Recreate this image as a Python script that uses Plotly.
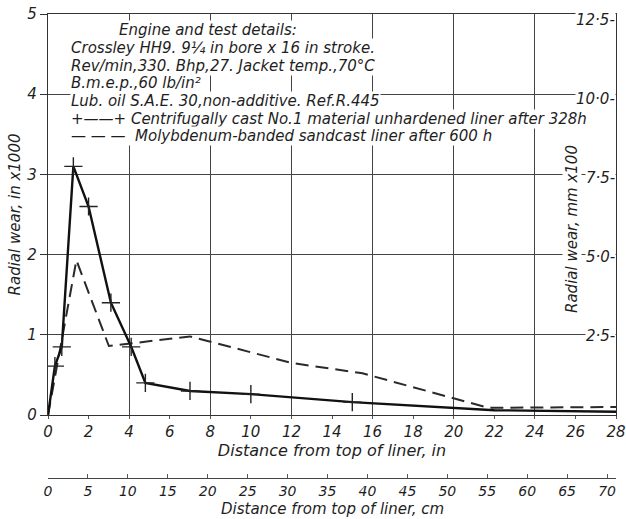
import plotly.graph_objects as go

# Data (inches from top of liner, radial wear in x1000)
solid_x = [0, 0.34, 0.68, 1.25, 2.0, 3.1, 4.1, 4.8, 7.0, 10.0, 15.0, 22.0, 28.0]
solid_y = [0, 0.61, 0.85, 3.1, 2.6, 1.4, 0.85, 0.4, 0.3, 0.26, 0.16, 0.06, 0.04]
solid_marker = [False, True, True, True, True, True, True, True, True, True, True, False, False]

dash_x = [0, 1.4, 3.0, 7.0, 12.0, 15.5, 21.7, 28.0]
dash_y = [0, 1.93, 0.86, 0.98, 0.65, 0.52, 0.09, 0.1]

x_in_ticks = list(range(0, 29, 2))
y_ticks = [0, 1, 2, 3, 4, 5]
mm_ticks = [2.5, 5.0, 7.5, 10.0, 12.5]
mm_labels = ["2·5", "5·0", "7·5", "10·0", "12·5"]
cm_ticks = list(range(0, 71, 5))

info_lines = [
    "Engine and test details:",
    "Crossley HH9. 9¼ in bore x 16 in stroke.",
    "Rev/min,330. Bhp,27. Jacket temp.,70°C",
    "B.m.e.p.,60 lb/in²",
    "Lub. oil S.A.E. 30,non-additive. Ref.R.445",
    "+——+ Centrifugally cast No.1 material unhardened liner after 328h",
    "— — —  Molybdenum-banded sandcast liner after 600 h",
]

FONT = "DejaVu Sans"
INK = "#1e1e1e"
W, H = 626, 519
ML, MR, MT, MB = 48, 10, 14, 41
plot_w = W - ML - MR
plot_h = H - MT - MB


def px_x(p):
    return (p - ML) / plot_w


def px_y(p):
    return (H - MB - p) / plot_h


fig = go.Figure()
fig.add_trace(go.Scatter(
    x=dash_x, y=dash_y, mode="lines",
    line=dict(color="#2a2a2a", width=2, dash="13px,7px"),
    showlegend=False, hoverinfo="skip"))
fig.add_trace(go.Scatter(
    x=solid_x, y=solid_y, mode="lines",
    line=dict(color="#111", width=2.4),
    showlegend=False, hoverinfo="skip"))
fig.add_trace(go.Scatter(
    x=[x for x, m in zip(solid_x, solid_marker) if m],
    y=[y for y, m in zip(solid_y, solid_marker) if m],
    mode="markers",
    marker=dict(symbol="cross-thin", size=13, line=dict(color="#222", width=1.4)),
    showlegend=False, hoverinfo="skip"))
# cm axis carrier
fig.add_trace(go.Scatter(x=[None], y=[None], xaxis="x2", yaxis="y",
                         showlegend=False, hoverinfo="skip"))

y_dom0 = px_y(415)
TF = dict(size=15, family=FONT, style="italic")
LF = dict(size=15, family=FONT, style="italic", color=INK)

fig.update_layout(
    width=W, height=H,
    margin=dict(l=ML, r=MR, t=MT, b=MB, autoexpand=False),
    paper_bgcolor="white", plot_bgcolor="white",
    font=dict(family=FONT, size=13, color=INK, style="italic"),
    xaxis=dict(
        range=[0, 28], tickvals=x_in_ticks, ticktext=[str(v) for v in x_in_ticks],
        showgrid=False, showline=True, linecolor="#333", linewidth=1.2, mirror=True,
        ticks="outside", ticklen=3, tickcolor="#555", zeroline=False, automargin=False,
        minor=dict(dtick=4, tick0=0, showgrid=True, gridcolor="#444", gridwidth=1),
        tickfont=TF,
        title=dict(text="Distance from top of liner, in", standoff=2,
                   font=dict(size=16, family=FONT, style="italic")),
        anchor="y",
    ),
    xaxis2=dict(
        range=[0, 28 * 2.54], tickvals=cm_ticks, overlaying="x", anchor="free", position=0,
        side="bottom", showgrid=False, showline=True, linecolor="#444", linewidth=1.2,
        ticks="inside", ticklen=4, tickcolor="#555", zeroline=False, automargin=False,
        tickfont=dict(size=14, family=FONT, style="italic"),
    ),
    yaxis=dict(
        range=[0, 5], tickvals=y_ticks, domain=[y_dom0, 1],
        showgrid=True, gridcolor="#444", gridwidth=1, automargin=False,
        showline=True, linecolor="#333", linewidth=1.2, mirror=True,
        ticks="outside", ticklen=7, tickcolor="#333", zeroline=False,
        tickfont=TF,
        title=dict(text="Radial wear, in x1000", standoff=3,
                   font=dict(size=15, family=FONT, style="italic")),
    ),
)

# cm axis title
fig.add_annotation(x=0.5, xref="paper", y=px_y(509), yref="paper", yanchor="middle",
                   text="Distance from top of liner, cm", showarrow=False,
                   font=dict(size=15, family=FONT, style="italic", color=INK))

# right-hand mm scale labels
for v, lab in zip(mm_ticks, mm_labels):
    fig.add_annotation(x=1, xref="paper", xanchor="right", xshift=0,
                       y=v / 2.54, yref="y", yanchor="middle",
                       text=lab + "-", showarrow=False, bgcolor="white", borderpad=0,
                       font=LF)

fig.add_annotation(x=px_x(582), xref="paper", y=px_y(229), yref="paper",
                   text="Radial wear, mm x100", textangle=-90, showarrow=False,
                   bgcolor="white", borderpad=0,
                   font=dict(size=15, family=FONT, style="italic", color=INK))

# info block
line_y = [30, 48, 66, 83, 101, 119, 136]
for i, (txt, yp) in enumerate(zip(info_lines, line_y)):
    xp = 118 if i == 0 else 70
    fig.add_annotation(x=px_x(xp), xref="paper", xanchor="left",
                       y=px_y(yp), yref="paper", yanchor="middle",
                       text=txt, showarrow=False, bgcolor="white", borderpad=0,
                       font=LF)

fig.write_html("out.html")
